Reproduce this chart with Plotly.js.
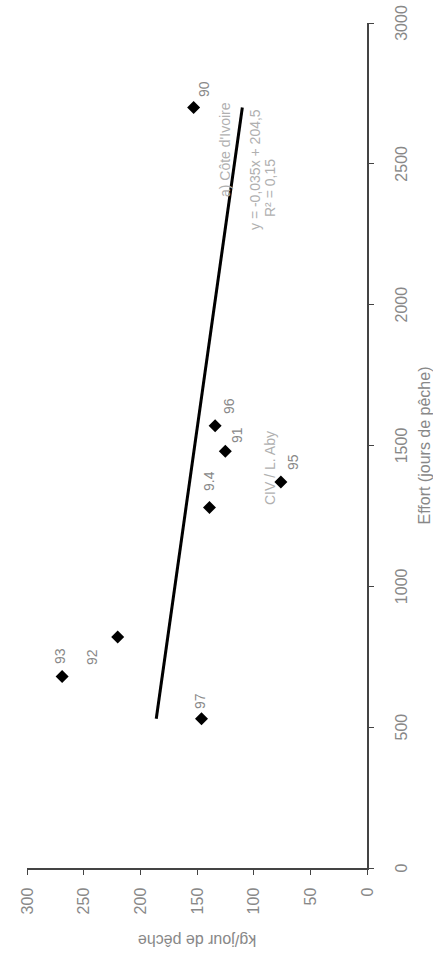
<!DOCTYPE html>
<html>
<head>
<meta charset="utf-8">
<script src="https://cdn.plot.ly/plotly-3.0.1.min.js"></script>
<style>
  html, body { margin: 0; padding: 0; background: #fff; overflow: hidden; width: 433px; height: 953px; }
  #chart {
    position: absolute; left: 0; top: 0;
    width: 953px; height: 433px;
    transform-origin: 0 0;
    transform: translateY(953px) rotate(-90deg);
  }
</style>
</head>
<body>
<div id="chart"></div>
<script>
// Data
const years  = ['90', '96', '91', '95', '9.4', '93', '92', '97'];
const effort = [2700, 1570, 1480, 1370, 1280, 680, 820, 530];   // jours de pêche
const cpue   = [153, 134, 125, 76, 139, 269, 220, 146];          // kg/jour de pêche

// Trend line coefficients printed on the figure
const trendSlope = -0.035;
const trendIntercept = 204.5;

// Axis tick values
const effortTicks = [0, 500, 1000, 1500, 2000, 2500, 3000];
const cpueTicks = [0, 50, 100, 150, 200, 250, 300];

const xMin = Math.min(...effort), xMax = Math.max(...effort);
const trendX = [xMin, xMax];
const trendY = trendX.map(v => trendSlope * v + trendIntercept);

const labelFont = {family: 'Liberation Sans, Arial, sans-serif', size: 14, color: '#888'};
// label offsets (px) for the point labels
const offs = [[18, -10], [20, -14], [16, -12], [20, -12], [26, 0], [20, 2], [-20, 26], [18, 2]];

const annotations = years.map((t, i) => ({
  x: effort[i], y: cpue[i], xref: 'x', yref: 'y', text: t, showarrow: false,
  xshift: offs[i][0], yshift: offs[i][1], font: labelFont
}));

const txtFont = {family: 'Liberation Sans, Arial, sans-serif', size: 14, color: '#b0b0b0'};
annotations.push(
  {x: 2550, y: 125, xref: 'x', yref: 'y', text: "a) Côte d'Ivoire", showarrow: false, font: txtFont},
  {x: 2480, y: 99, xref: 'x', yref: 'y', text: 'y = -0,035x + 204,5', showarrow: false, font: txtFont},
  {x: 2415, y: 86, xref: 'x', yref: 'y', text: 'R² = 0,15', showarrow: false, font: txtFont},
  {x: 1420, y: 86, xref: 'x', yref: 'y', text: 'CIV / L. Aby', showarrow: false, font: txtFont}
);

const traces = [
  {x: trendX, y: trendY, mode: 'lines', line: {color: '#000', width: 3}, hoverinfo: 'skip'},
  {x: effort, y: cpue, mode: 'markers', marker: {symbol: 'diamond', size: 10, color: '#000'}}
];

const axisFont = {family: 'Liberation Sans, Arial, sans-serif', size: 16, color: '#888'};
const layout = {
  width: 953, height: 433,
  margin: {l: 85, r: 23, t: 27, b: 66},
  paper_bgcolor: '#fff', plot_bgcolor: '#fff',
  showlegend: false,
  xaxis: {
    range: [0, 3000], tickvals: effortTicks, ticktext: effortTicks.map(String),
    showline: true, linecolor: '#444', linewidth: 1.5, ticks: 'outside', ticklen: 5, tickcolor: '#444',
    showgrid: false, zeroline: false, tickfont: axisFont, ticklabelstandoff: 14,
    title: {text: 'Effort (jours de pêche)', font: axisFont, standoff: 18}
  },
  yaxis: {
    range: [0, 300], tickvals: cpueTicks, ticktext: cpueTicks.map(String),
    showline: true, linecolor: '#444', linewidth: 1.5, ticks: 'outside', ticklen: 5, tickcolor: '#444',
    showgrid: false, zeroline: false, tickfont: axisFont, ticklabelstandoff: 10,
    title: {text: 'kg/jour de pêche', font: axisFont, standoff: 16}
  },
  annotations: annotations
};

Plotly.newPlot('chart', traces, layout, {staticPlot: true, displayModeBar: false});
</script>
</body>
</html>
